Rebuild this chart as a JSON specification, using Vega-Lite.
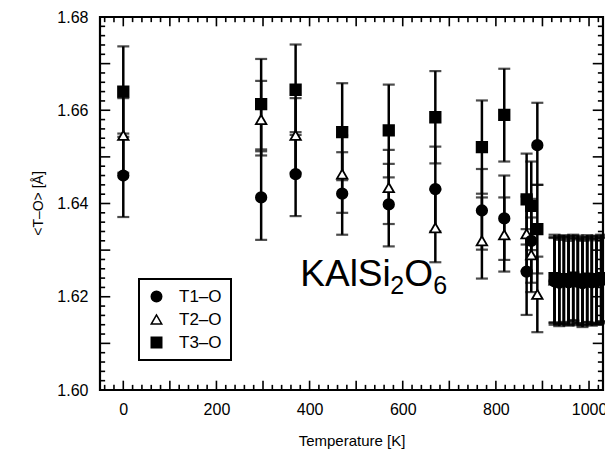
{
  "$schema": "https://vega.github.io/schema/vega-lite/v6.json",
  "autosize": {"type": "none"},
  "width": 503,
  "height": 373,
  "padding": {"left": 100, "top": 17, "right": 2, "bottom": 68},
  "config": {
    "view": {"stroke": "black", "strokeWidth": 2.2},
    "font": "Liberation Sans",
    "legend": {"strokeWidth": 2},
    "axis": {"domain": false, "labelColor": "black", "titleColor": "black", "grid": false, "labelOverlap": false, "labelFlush": false}
  },
  "datasets": {
    "pts": [
      {"T": 0, "s": "T1–O", "v": 1.6460, "lo": 1.6371, "hi": 1.6550},
      {"T": 0, "s": "T2–O", "v": 1.6546, "lo": 1.6466, "hi": 1.6626},
      {"T": 0, "s": "T3–O", "v": 1.6640, "lo": 1.6543, "hi": 1.6737},
      {"T": 296, "s": "T1–O", "v": 1.6413, "lo": 1.6322, "hi": 1.6512},
      {"T": 296, "s": "T2–O", "v": 1.6580, "lo": 1.6503, "hi": 1.6663},
      {"T": 296, "s": "T3–O", "v": 1.6613, "lo": 1.6516, "hi": 1.6710},
      {"T": 370, "s": "T1–O", "v": 1.6463, "lo": 1.6373, "hi": 1.6553},
      {"T": 370, "s": "T2–O", "v": 1.6546, "lo": 1.6466, "hi": 1.6626},
      {"T": 370, "s": "T3–O", "v": 1.6644, "lo": 1.6547, "hi": 1.6741},
      {"T": 470, "s": "T1–O", "v": 1.6421, "lo": 1.6333, "hi": 1.6510},
      {"T": 470, "s": "T2–O", "v": 1.6463, "lo": 1.6380, "hi": 1.6546},
      {"T": 470, "s": "T3–O", "v": 1.6553, "lo": 1.6450, "hi": 1.6658},
      {"T": 570, "s": "T1–O", "v": 1.6398, "lo": 1.6308, "hi": 1.6485},
      {"T": 570, "s": "T2–O", "v": 1.6434, "lo": 1.6356, "hi": 1.6515},
      {"T": 570, "s": "T3–O", "v": 1.6557, "lo": 1.6456, "hi": 1.6655},
      {"T": 670, "s": "T1–O", "v": 1.6431, "lo": 1.6340, "hi": 1.6522},
      {"T": 670, "s": "T2–O", "v": 1.6348, "lo": 1.6274, "hi": 1.6430},
      {"T": 670, "s": "T3–O", "v": 1.6585, "lo": 1.6486, "hi": 1.6684},
      {"T": 770, "s": "T1–O", "v": 1.6385, "lo": 1.6301, "hi": 1.6474},
      {"T": 770, "s": "T2–O", "v": 1.6320, "lo": 1.6239, "hi": 1.6413},
      {"T": 770, "s": "T3–O", "v": 1.6521, "lo": 1.6421, "hi": 1.6621},
      {"T": 818, "s": "T1–O", "v": 1.6368, "lo": 1.6279, "hi": 1.6460},
      {"T": 818, "s": "T2–O", "v": 1.6333, "lo": 1.6254, "hi": 1.6413},
      {"T": 818, "s": "T3–O", "v": 1.6590, "lo": 1.6490, "hi": 1.6689},
      {"T": 866, "s": "T1–O", "v": 1.6254, "lo": 1.6161, "hi": 1.6345},
      {"T": 866, "s": "T2–O", "v": 1.6335, "lo": 1.6255, "hi": 1.6415},
      {"T": 866, "s": "T3–O", "v": 1.6409, "lo": 1.6312, "hi": 1.6507},
      {"T": 876, "s": "T1–O", "v": 1.6320, "lo": 1.6230, "hi": 1.6410},
      {"T": 876, "s": "T2–O", "v": 1.6290, "lo": 1.6210, "hi": 1.6370},
      {"T": 876, "s": "T3–O", "v": 1.6395, "lo": 1.6300, "hi": 1.6490},
      {"T": 889, "s": "T1–O", "v": 1.6525, "lo": 1.6440, "hi": 1.6616},
      {"T": 889, "s": "T2–O", "v": 1.6205, "lo": 1.6124, "hi": 1.6286},
      {"T": 889, "s": "T3–O", "v": 1.6345, "lo": 1.6250, "hi": 1.6440},
      {"T": 926, "s": "T1–O", "v": 1.6233, "lo": 1.6140, "hi": 1.6326},
      {"T": 926, "s": "T2–O", "v": 1.6236, "lo": 1.6144, "hi": 1.6328},
      {"T": 926, "s": "T3–O", "v": 1.6240, "lo": 1.6145, "hi": 1.6333},
      {"T": 936, "s": "T1–O", "v": 1.6230, "lo": 1.6137, "hi": 1.6322},
      {"T": 936, "s": "T2–O", "v": 1.6234, "lo": 1.6141, "hi": 1.6325},
      {"T": 936, "s": "T3–O", "v": 1.6236, "lo": 1.6142, "hi": 1.6330},
      {"T": 946, "s": "T1–O", "v": 1.6235, "lo": 1.6142, "hi": 1.6327},
      {"T": 946, "s": "T2–O", "v": 1.6237, "lo": 1.6146, "hi": 1.6329},
      {"T": 946, "s": "T3–O", "v": 1.6238, "lo": 1.6144, "hi": 1.6332},
      {"T": 956, "s": "T1–O", "v": 1.6231, "lo": 1.6138, "hi": 1.6320},
      {"T": 956, "s": "T2–O", "v": 1.6233, "lo": 1.6140, "hi": 1.6324},
      {"T": 956, "s": "T3–O", "v": 1.6235, "lo": 1.6141, "hi": 1.6329},
      {"T": 966, "s": "T1–O", "v": 1.6236, "lo": 1.6145, "hi": 1.6326},
      {"T": 966, "s": "T2–O", "v": 1.6239, "lo": 1.6148, "hi": 1.6330},
      {"T": 966, "s": "T3–O", "v": 1.6241, "lo": 1.6150, "hi": 1.6333},
      {"T": 976, "s": "T1–O", "v": 1.6232, "lo": 1.6139, "hi": 1.6323},
      {"T": 976, "s": "T2–O", "v": 1.6235, "lo": 1.6143, "hi": 1.6326},
      {"T": 976, "s": "T3–O", "v": 1.6237, "lo": 1.6143, "hi": 1.6331},
      {"T": 986, "s": "T1–O", "v": 1.6229, "lo": 1.6135, "hi": 1.6320},
      {"T": 986, "s": "T2–O", "v": 1.6232, "lo": 1.6139, "hi": 1.6323},
      {"T": 986, "s": "T3–O", "v": 1.6234, "lo": 1.6140, "hi": 1.6328},
      {"T": 996, "s": "T1–O", "v": 1.6234, "lo": 1.6141, "hi": 1.6325},
      {"T": 996, "s": "T2–O", "v": 1.6237, "lo": 1.6145, "hi": 1.6328},
      {"T": 996, "s": "T3–O", "v": 1.6239, "lo": 1.6146, "hi": 1.6332},
      {"T": 1006, "s": "T1–O", "v": 1.6231, "lo": 1.6138, "hi": 1.6321},
      {"T": 1006, "s": "T2–O", "v": 1.6234, "lo": 1.6141, "hi": 1.6325},
      {"T": 1006, "s": "T3–O", "v": 1.6236, "lo": 1.6142, "hi": 1.6330},
      {"T": 1016, "s": "T1–O", "v": 1.6233, "lo": 1.6140, "hi": 1.6324},
      {"T": 1016, "s": "T2–O", "v": 1.6236, "lo": 1.6144, "hi": 1.6327},
      {"T": 1016, "s": "T3–O", "v": 1.6238, "lo": 1.6144, "hi": 1.6331},
      {"T": 1026, "s": "T1–O", "v": 1.6235, "lo": 1.6143, "hi": 1.6326},
      {"T": 1026, "s": "T2–O", "v": 1.6238, "lo": 1.6147, "hi": 1.6329},
      {"T": 1026, "s": "T3–O", "v": 1.6240, "lo": 1.6147, "hi": 1.6333}
    ],
    "xminor": [{"t": -40}, {"t": -20}, {"t": 20}, {"t": 40}, {"t": 60}, {"t": 80}, {"t": 120}, {"t": 140}, {"t": 160}, {"t": 180}, {"t": 220}, {"t": 240}, {"t": 260}, {"t": 280}, {"t": 320}, {"t": 340}, {"t": 360}, {"t": 380}, {"t": 420}, {"t": 440}, {"t": 460}, {"t": 480}, {"t": 520}, {"t": 540}, {"t": 560}, {"t": 580}, {"t": 620}, {"t": 640}, {"t": 660}, {"t": 680}, {"t": 720}, {"t": 740}, {"t": 760}, {"t": 780}, {"t": 820}, {"t": 840}, {"t": 860}, {"t": 880}, {"t": 920}, {"t": 940}, {"t": 960}, {"t": 980}, {"t": 1020}],
    "xmajor": [{"t": 0}, {"t": 100}, {"t": 200}, {"t": 300}, {"t": 400}, {"t": 500}, {"t": 600}, {"t": 700}, {"t": 800}, {"t": 900}, {"t": 1000}],
    "yminor": [{"a": 1.602}, {"a": 1.604}, {"a": 1.606}, {"a": 1.608}, {"a": 1.612}, {"a": 1.614}, {"a": 1.616}, {"a": 1.618}, {"a": 1.622}, {"a": 1.624}, {"a": 1.626}, {"a": 1.628}, {"a": 1.632}, {"a": 1.634}, {"a": 1.636}, {"a": 1.638}, {"a": 1.642}, {"a": 1.644}, {"a": 1.646}, {"a": 1.648}, {"a": 1.652}, {"a": 1.654}, {"a": 1.656}, {"a": 1.658}, {"a": 1.662}, {"a": 1.664}, {"a": 1.666}, {"a": 1.668}, {"a": 1.672}, {"a": 1.674}, {"a": 1.676}, {"a": 1.678}],
    "ymajor": [{"a": 1.61}, {"a": 1.62}, {"a": 1.63}, {"a": 1.64}, {"a": 1.65}, {"a": 1.66}, {"a": 1.67}],
    "lbl": [{"T": 380, "v": 1.6224, "main": "KAlSi", "sub1": "2", "mid": "O", "sub2": "6"}]
  },
  "layer": [
    {
      "data": {"name": "pts"},
      "mark": {"type": "rule", "color": "black", "strokeWidth": 2.5},
      "encoding": {
        "x": {"field": "T", "type": "quantitative", "scale": {"domain": [-50, 1030], "nice": false, "zero": false},
          "axis": {"orient": "bottom", "values": [0,200,400,600,800,1000], "ticks": false, "format": "d",
            "labelFontSize": 16, "labelPadding": 11,
            "title": "Temperature  [K]", "titleFontSize": 15, "titleFontWeight": "normal", "titleColor": "black", "titleY": 50, "titleBaseline": "middle"}},
        "y": {"field": "lo", "type": "quantitative", "scale": {"domain": [1.6, 1.68], "nice": false, "zero": false},
          "axis": {"orient": "left", "values": [1.60,1.62,1.64,1.66,1.68], "ticks": false, "format": ".2f",
            "labelFontSize": 16, "labelPadding": 12,
            "title": "<T–O> [Å]", "titleFontSize": 14, "titleFontWeight": "normal", "titleColor": "black", "titleX": -62, "titleY": 186, "titleBaseline": "middle"}},
        "y2": {"field": "hi"}
      }
    },
    {
      "data": {"name": "xminor"},
      "mark": {"type": "rule", "color": "black", "strokeWidth": 1.6},
      "encoding": {
        "x": {"field": "t", "type": "quantitative"},
        "y": {"datum": 1.6, "type": "quantitative"},
        "y2": {"datum": 1.6011}
      }
    },
    {
      "data": {"name": "xminor"},
      "mark": {"type": "rule", "color": "black", "strokeWidth": 1.6},
      "encoding": {
        "x": {"field": "t", "type": "quantitative"},
        "y": {"datum": 1.68, "type": "quantitative"},
        "y2": {"datum": 1.6789}
      }
    },
    {
      "data": {"name": "xmajor"},
      "mark": {"type": "rule", "color": "black", "strokeWidth": 1.6},
      "encoding": {
        "x": {"field": "t", "type": "quantitative"},
        "y": {"datum": 1.6, "type": "quantitative"},
        "y2": {"datum": 1.6020}
      }
    },
    {
      "data": {"name": "xmajor"},
      "mark": {"type": "rule", "color": "black", "strokeWidth": 1.6},
      "encoding": {
        "x": {"field": "t", "type": "quantitative"},
        "y": {"datum": 1.68, "type": "quantitative"},
        "y2": {"datum": 1.6780}
      }
    },
    {
      "data": {"name": "yminor"},
      "mark": {"type": "rule", "color": "black", "strokeWidth": 1.6},
      "encoding": {
        "y": {"field": "a", "type": "quantitative"},
        "x": {"datum": -50, "type": "quantitative"},
        "x2": {"datum": -39}
      }
    },
    {
      "data": {"name": "yminor"},
      "mark": {"type": "rule", "color": "black", "strokeWidth": 1.6},
      "encoding": {
        "y": {"field": "a", "type": "quantitative"},
        "x": {"datum": 1030, "type": "quantitative"},
        "x2": {"datum": 1019}
      }
    },
    {
      "data": {"name": "ymajor"},
      "mark": {"type": "rule", "color": "black", "strokeWidth": 1.6},
      "encoding": {
        "y": {"field": "a", "type": "quantitative"},
        "x": {"datum": -50, "type": "quantitative"},
        "x2": {"datum": -28}
      }
    },
    {
      "data": {"name": "ymajor"},
      "mark": {"type": "rule", "color": "black", "strokeWidth": 1.6},
      "encoding": {
        "y": {"field": "a", "type": "quantitative"},
        "x": {"datum": 1030, "type": "quantitative"},
        "x2": {"datum": 1008}
      }
    },
    {
      "data": {"name": "pts"},
      "mark": {"type": "tick", "orient": "horizontal", "color": "black", "size": 12, "thickness": 2.2},
      "encoding": {
        "x": {"field": "T", "type": "quantitative"},
        "y": {"field": "lo", "type": "quantitative"}
      }
    },
    {
      "data": {"name": "pts"},
      "mark": {"type": "tick", "orient": "horizontal", "color": "black", "size": 12, "thickness": 2.2},
      "encoding": {
        "x": {"field": "T", "type": "quantitative"},
        "y": {"field": "hi", "type": "quantitative"}
      }
    },
    {
      "data": {"name": "pts"},
      "mark": {"type": "point", "filled": true, "stroke": "black", "strokeWidth": 1.8, "size": 110, "opacity": 1},
      "encoding": {
        "x": {"field": "T", "type": "quantitative"},
        "y": {"field": "v", "type": "quantitative"},
        "shape": {"field": "s", "type": "nominal", "scale": {"domain": ["T1–O", "T2–O", "T3–O"], "range": ["circle", "triangle-up", "square"]},
          "legend": {"title": null, "orient": "none", "legendX": 39, "legendY": 262, "strokeColor": "black", "padding": 9, "labelFontSize": 17, "labelColor": "black", "labelFont": "Liberation Sans", "symbolSize": 110, "rowPadding": 5, "labelOffset": 14, "offset": 0,
            "encode": {"symbols": {"update": {"stroke": {"value": "black"}, "strokeWidth": {"value": 1.8}}}}}},
        "fill": {"field": "s", "type": "nominal", "scale": {"domain": ["T1–O", "T2–O", "T3–O"], "range": ["black", "white", "black"]},
          "legend": {"title": null, "orient": "none", "legendX": 39, "legendY": 262, "strokeColor": "black", "padding": 9, "labelFontSize": 17, "labelColor": "black", "labelFont": "Liberation Sans", "symbolSize": 110, "rowPadding": 5, "labelOffset": 14, "offset": 0,
            "encode": {"symbols": {"update": {"stroke": {"value": "black"}, "strokeWidth": {"value": 1.8}}}}}}
      }
    },
    {
      "data": {"name": "lbl"},
      "mark": {"type": "text", "align": "left", "baseline": "alphabetic", "fontSize": 37, "font": "Liberation Sans", "color": "black"},
      "encoding": {
        "x": {"field": "T", "type": "quantitative"},
        "y": {"field": "v", "type": "quantitative"},
        "text": {"field": "main"}
      }
    },
    {
      "data": {"name": "lbl"},
      "mark": {"type": "text", "align": "left", "baseline": "alphabetic", "fontSize": 25, "font": "Liberation Sans", "color": "black", "dx": 90, "dy": 8},
      "encoding": {
        "x": {"field": "T", "type": "quantitative"},
        "y": {"field": "v", "type": "quantitative"},
        "text": {"field": "sub1"}
      }
    },
    {
      "data": {"name": "lbl"},
      "mark": {"type": "text", "align": "left", "baseline": "alphabetic", "fontSize": 37, "font": "Liberation Sans", "color": "black", "dx": 104},
      "encoding": {
        "x": {"field": "T", "type": "quantitative"},
        "y": {"field": "v", "type": "quantitative"},
        "text": {"field": "mid"}
      }
    },
    {
      "data": {"name": "lbl"},
      "mark": {"type": "text", "align": "left", "baseline": "alphabetic", "fontSize": 25, "font": "Liberation Sans", "color": "black", "dx": 133, "dy": 8},
      "encoding": {
        "x": {"field": "T", "type": "quantitative"},
        "y": {"field": "v", "type": "quantitative"},
        "text": {"field": "sub2"}
      }
    }
  ]
}
